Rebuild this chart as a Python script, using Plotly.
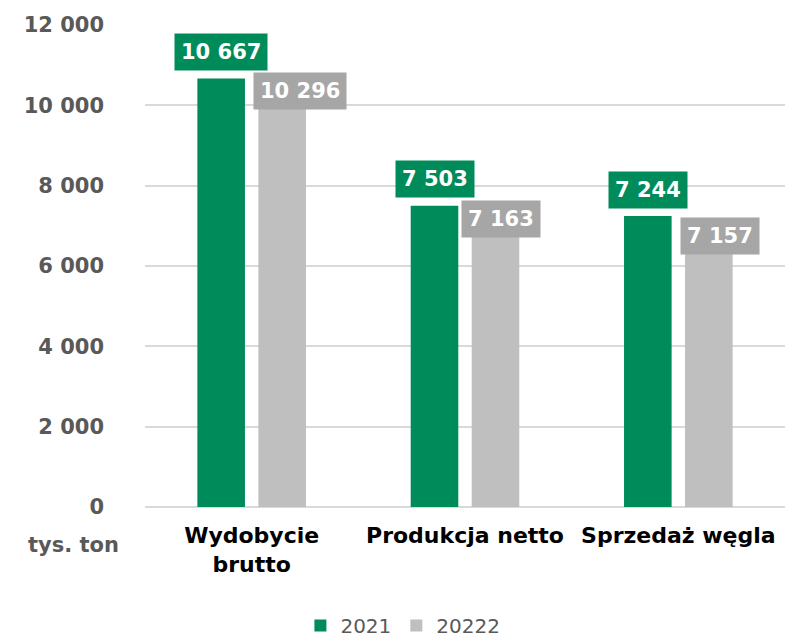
import plotly.graph_objects as go

categories = ["Wydobycie<br>brutto", "Produkcja netto", "Sprzedaż węgla"]
series_names = ["2021", "20222"]
values_2021 = [10667, 7503, 7244]
values_2022 = [10296, 7163, 7157]
y_ticks = [0, 2000, 4000, 6000, 8000, 10000, 12000]

GREEN = "#008C5A"
GRAY_BAR = "#BFBFBF"
GRAY_LABEL = "#A6A6A6"
FONT = "DejaVu Sans"

def fmt(v):
    return f"{v:,}".replace(",", " ")

fig = go.Figure()
fig.add_trace(go.Bar(name=series_names[0], x=categories, y=values_2021,
                     marker=dict(color=GREEN, line=dict(width=0))))
fig.add_trace(go.Bar(name=series_names[1], x=categories, y=values_2022,
                     marker=dict(color=GRAY_BAR, line=dict(width=0))))

# label placement (pixel nudges, style only)
bar_offset = 30.5
gray_dx = [17.5, 5, 11]
gray_dy = [2, 0, -16]

annotations = []
for i, cat in enumerate(categories):
    annotations.append(dict(
        x=cat, y=values_2021[i], xref="x", yref="y",
        text=f"<b>{fmt(values_2021[i])}</b>", showarrow=False,
        xshift=-bar_offset, yshift=7.5, yanchor="bottom", xanchor="center",
        bgcolor=GREEN, borderpad=6,
        font=dict(family=FONT, size=21, color="white")))
    annotations.append(dict(
        x=cat, y=values_2022[i], xref="x", yref="y",
        text=f"<b>{fmt(values_2022[i])}</b>", showarrow=False,
        xshift=bar_offset + gray_dx[i], yshift=gray_dy[i],
        yanchor="middle", xanchor="center",
        bgcolor=GRAY_LABEL, borderpad=6,
        font=dict(family=FONT, size=21, color="white")))

annotations.append(dict(
    x=-0.111, y=-0.078, xref="paper", yref="paper",
    text="<b>tys. ton</b>", showarrow=False, xanchor="center", yanchor="middle",
    font=dict(family=FONT, size=21, color="#595959")))

fig.update_layout(
    width=790, height=637,
    margin=dict(l=145, r=5, t=25, b=129.5, pad=0, autoexpand=False),
    paper_bgcolor="white", plot_bgcolor="white",
    barmode="group", bargap=0.428, bargroupgap=0.22,
    font=dict(family=FONT),
    showlegend=True,
    legend=dict(orientation="h", x=0.403, y=-0.246, xanchor="center", yanchor="middle",
                font=dict(family=FONT, size=20, color="#595959"),
                itemwidth=30, traceorder="normal"),
    annotations=annotations,
)
fig.update_xaxes(
    automargin=False,
    showgrid=False, showline=False, zeroline=False, ticks="",
    tickfont=dict(family=FONT, size=22, color="#000000"),
    tickprefix="<b>", ticksuffix="</b>", ticklabelstandoff=13,
)
fig.update_yaxes(
    automargin=False,
    range=[0, 12000], tickvals=y_ticks, ticktext=[f"<b>{fmt(v)}</b>" for v in y_ticks],
    showgrid=True, gridcolor="#D9D9D9", gridwidth=1.5,
    zeroline=True, zerolinecolor="#D9D9D9", zerolinewidth=1.5,
    showline=False, ticks="", ticklabelstandoff=40,
    tickfont=dict(family=FONT, size=21, color="#595959"),
)

fig.write_html("out.html", config={"displayModeBar": False},
               post_script="document.body.style.margin='0';document.body.style.overflow='hidden';")
